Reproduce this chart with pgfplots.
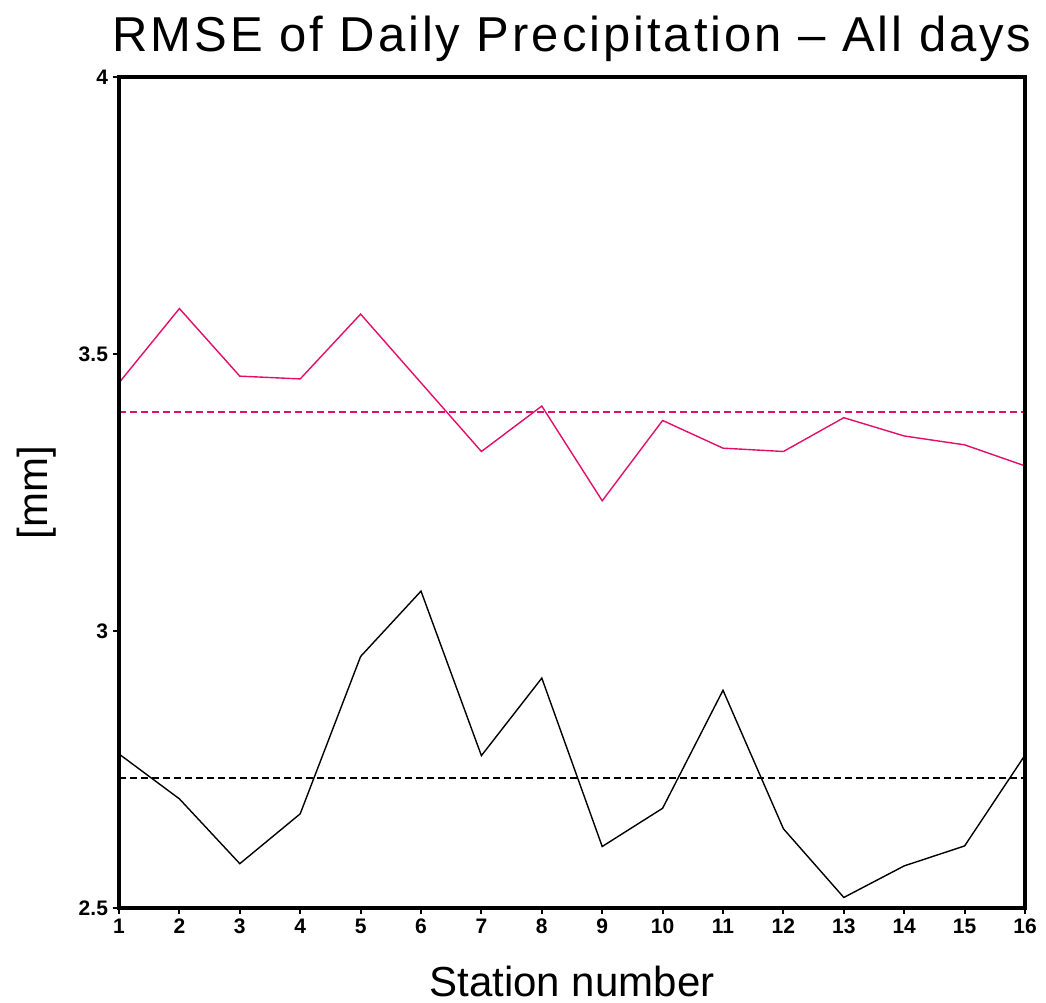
\documentclass[border=0pt]{standalone}
\usepackage{pgfplots}
\pgfplotsset{compat=1.18}
\usepackage{fontspec}
\setmainfont{Liberation Sans}
\newfontfamily\titlefont[LetterSpace=6]{Liberation Sans}
\definecolor{rmred}{RGB}{225,15,105}
\pgfplotstableread{
x red black
1 3.448 2.778
2 3.582 2.697
3 3.460 2.580
4 3.455 2.670
5 3.572 2.954
6 3.448 3.072
7 3.324 2.775
8 3.406 2.915
9 3.235 2.611
10 3.380 2.680
11 3.330 2.893
12 3.324 2.643
13 3.385 2.519
14 3.352 2.576
15 3.336 2.612
16 3.298 2.776
}\datatable
\begin{document}
\begin{tikzpicture}
\begin{axis}[
 scale only axis, width=453pt, height=415.5pt,
 xmin=1, xmax=16, ymin=2.5, ymax=4,
 xtick={1,...,16}, ytick={2.5,3,3.5,4},
 tick align=outside, major tick length=3pt,
 axis line style={line width=2pt},
 every tick/.style={black, line width=1pt},
 tick label style={font=\fontsize{10.5}{12}\selectfont\bfseries},
 /pgf/number format/assume math mode=true,
 xtick pos=bottom, ytick pos=left,
 xticklabel style={yshift=1pt},
 yticklabel style={xshift=1pt},
 axis on top,
]
\addplot[rmred, line width=0.7pt] table[x=x,y=red] {\datatable};
\addplot[black, line width=0.7pt] table[x=x,y=black] {\datatable};
\addplot[rmred, line width=0.7pt, dash pattern=on 3.5pt off 2pt] coordinates {(1,3.395) (16,3.395)};
\addplot[black, line width=0.7pt, dash pattern=on 3.5pt off 2pt] coordinates {(1,2.735) (16,2.735)};
\end{axis}
\node[anchor=base, font=\titlefont\fontsize{24.5}{28}\selectfont] at ([yshift=12.5pt]current axis.north) {RMSE of Daily Precipitation – All days};
\node[anchor=base, font=\fontsize{21}{24}\selectfont] at ([yshift=-44.5pt]current axis.south) {Station number};
\node[anchor=center, xshift=-41pt, rotate=90, font=\fontsize{21}{24}\selectfont] at (current axis.west) {[mm]};
\pgfresetboundingbox
\path ([shift={(-59.5pt,-47.5pt)}]current axis.south west) rectangle ([shift={(10.5pt,38.5pt)}]current axis.north east);
\end{tikzpicture}
\end{document}
